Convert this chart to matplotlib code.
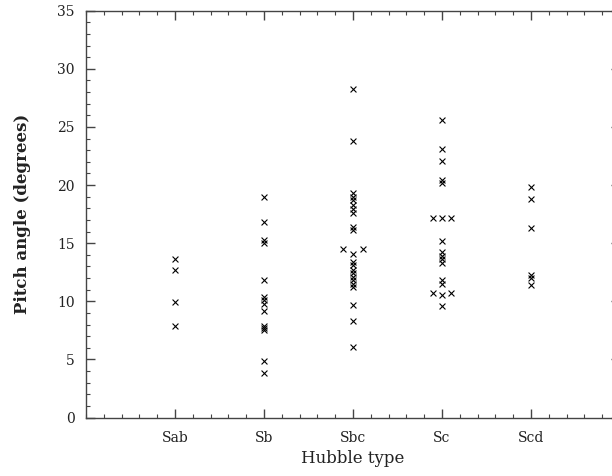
import numpy as np
import matplotlib
matplotlib.use("Agg")
import matplotlib.pyplot as plt
from matplotlib.ticker import MultipleLocator, FixedLocator, FixedFormatter

# Hubble types on the x axis
types = ["Sab", "Sb", "Sbc", "Sc", "Scd"]

# pitch angles (degrees) per type
sab = [13.6, 12.7, 9.9, 7.9]
sb = [19.0, 16.8, 15.3, 15.0, 11.8, 10.4, 10.1, 9.8, 9.2, 7.9, 7.7, 7.5, 4.9, 3.8]
sbc = [28.3, 23.8, 19.3, 19.0, 18.7, 18.3, 17.9, 17.6, 16.4, 16.1, 14.1,
       13.4, 13.1, 12.7, 12.4, 12.1, 11.8, 11.5, 11.2, 9.7, 8.3, 6.1]
sc = [25.6, 23.1, 22.1, 20.4, 20.2, 17.2, 15.2, 14.2, 13.9, 13.6, 13.3,
      11.8, 11.5, 10.5, 9.6]
scd = [19.8, 18.8, 16.3, 12.3, 12.0, 11.4]

# points drawn beside the column (coincident values spread sideways)
side_type = [3, 3, 4, 4, 4, 4]
side_dx = [-0.11, 0.11, -0.1, 0.1, -0.1, 0.1]
side_val = [14.5, 14.5, 17.2, 17.2, 10.7, 10.7]

columns = [sab, sb, sbc, sc, scd]

fig = plt.figure(figsize=(6.12, 4.76), dpi=100)
ax = fig.add_axes([86 / 612, 58.5 / 476, 534 / 612, 406.8 / 476])

for i, vals in enumerate(columns):
    xs = np.full(len(vals), i + 1)
    ax.scatter(xs, vals, marker="x", s=18, c="black", linewidths=0.8)
sx = [t + d for t, d in zip(side_type, side_dx)]
ax.scatter(sx, side_val, marker="x", s=18, c="black", linewidths=0.8)

ax.set_xlim(0, 6)
ax.set_ylim(0, 35)

ax.xaxis.set_major_locator(FixedLocator(range(1, len(types) + 1)))
ax.xaxis.set_major_formatter(FixedFormatter(types))
ax.xaxis.set_minor_locator(MultipleLocator(0.2))
ax.yaxis.set_major_locator(MultipleLocator(5))
ax.yaxis.set_minor_locator(MultipleLocator(1))

for sp in ax.spines.values():
    sp.set_color("#444444")
    sp.set_linewidth(1.0)

ax.tick_params(which="both", direction="in", top=True, right=True,
               colors="#444444", labelcolor="#222222")
ax.tick_params(which="major", length=6.5, width=1.0)
ax.tick_params(which="minor", length=3.2, width=0.8)
ax.tick_params(axis="y", which="major", pad=8, labelsize=10)
ax.tick_params(axis="x", which="major", pad=10, labelsize=10)
for lab in ax.get_xticklabels() + ax.get_yticklabels():
    lab.set_family("DejaVu Serif")

ax.set_xlabel("Hubble type", family="DejaVu Serif", fontsize=12, color="#222222", labelpad=3)
ax.set_ylabel("Pitch angle (degrees)", family="DejaVu Serif", fontsize=12,
              fontweight="bold", color="#222222", labelpad=19)

fig.savefig("out.png", dpi=100)
